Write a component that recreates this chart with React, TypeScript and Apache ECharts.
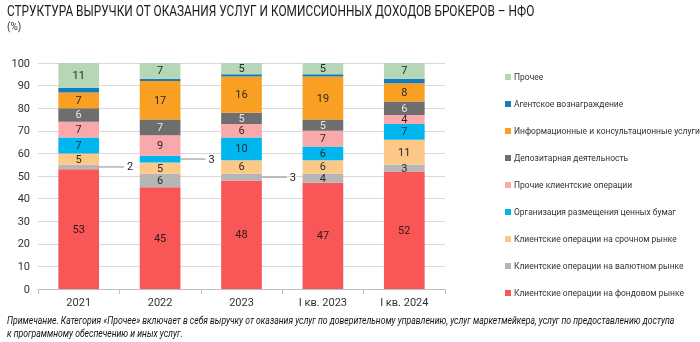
import React, { useEffect, useRef } from "react";
import * as echarts from "echarts";

const titleText = "СТРУКТУРА ВЫРУЧКИ ОТ ОКАЗАНИЯ УСЛУГ И КОМИССИОННЫХ ДОХОДОВ БРОКЕРОВ – НФО";
const unitText = "(%)";
const noteLine1 =
  "Примечание. Категория «Прочее» включает в себя выручку от оказания услуг по доверительному управлению, услуг маркетмейкера, услуг по предоставлению доступа";
const noteLine2 = "к программному обеспечению и иных услуг.";

const categories = ["2021", "2022", "2023", "I кв. 2023", "I кв. 2024"];

const stockMarket = [53, 45, 48, 47, 52];
const fxMarket = [2, 6, 3, 4, 3];
const derivativesMarket = [5, 5, 6, 6, 11];
const securitiesPlacement = [7, 3, 10, 6, 7];
const otherClientOps = [7, 9, 6, 7, 4];
const depository = [6, 7, 5, 5, 6];
const infoConsulting = [7, 17, 16, 19, 8];
const agencyFee = [2, 1, 1, 1, 2];
const other = [11, 7, 5, 5, 7];

const seriesDefs = [
  { name: "Клиентские операции на фондовом рынке", data: stockMarket, color: "#f95757", label: true, outside: [] as number[], labelColor: "#2a1a1a" },
  { name: "Клиентские операции на валютном рынке", data: fxMarket, color: "#b6b6b6", label: true, outside: [0, 2], labelColor: "#2a2a2a" },
  { name: "Клиентские операции на срочном рынке", data: derivativesMarket, color: "#fcc887", label: true, outside: [], labelColor: "#2a2a2a" },
  { name: "Организация размещения ценных бумаг", data: securitiesPlacement, color: "#00b6ee", label: true, outside: [1], labelColor: "#1a2a33" },
  { name: "Прочие клиентские операции", data: otherClientOps, color: "#f9a9a9", label: true, outside: [], labelColor: "#2a2a2a" },
  { name: "Депозитарная деятельность", data: depository, color: "#6e6e6e", label: true, outside: [], labelColor: "#e6e6e6" },
  { name: "Информационные и консультационные услуги", data: infoConsulting, color: "#f9a023", label: true, outside: [], labelColor: "#2a2a2a" },
  { name: "Агентское вознаграждение", data: agencyFee, color: "#137cbd", label: false, outside: [], labelColor: "#2a2a2a" },
  { name: "Прочее", data: other, color: "#b6d7b5", label: true, outside: [], labelColor: "#2a2a2a" },
];

const FONT = "Roboto";

function measure(text: string, font: string): number {
  const ctx = document.createElement("canvas").getContext("2d")!;
  ctx.font = font;
  return ctx.measureText(text).width;
}

export default function App() {
  const ref = useRef<HTMLDivElement>(null);
  useEffect(() => {
    document.body.style.margin = "0";
    const chart = echarts.init(ref.current!, null, { renderer: "svg" });

    const titleScale = 528 / measure(titleText, `14px ${FONT}`);
    const noteScale = 668 / measure(noteLine1, `italic 10.5px ${FONT}`);
    const longest = seriesDefs.reduce((a, s) => (s.name.length > a.length ? s.name : a), "");
    const legendFont = Math.min(10, (10 * 186) / measure(longest, `10px ${FONT}`));

    const series = seriesDefs.map((s) => ({
      name: s.name,
      type: "bar",
      stack: "total",
      barWidth: "50%",
      itemStyle: { color: s.color },
      label: {
        show: s.label,
        position: "inside",
        fontSize: 11,
        fontFamily: FONT,
        color: s.labelColor,
      },
      data: s.data.map((v, i) =>
        s.outside.includes(i)
          ? {
              value: v,
              label: {
                show: true,
                position: "right",
                distance: 0,
                formatter: (p: any) => `{l|}{v|${p.value}}`,
                rich: {
                  l: { width: 25, height: 1, backgroundColor: "#8c8c8c" },
                  v: { fontSize: 11, color: "#222", fontFamily: FONT, padding: [0, 0, 0, 3] },
                },
              },
            }
          : v
      ),
    }));
    chart.setOption({
      animation: false,
      textStyle: { fontFamily: FONT },
      grid: { left: 38, right: 255, top: 63, bottom: 53 },
      legend: {
        orient: "vertical",
        left: 500,
        top: 66,
        itemWidth: 6,
        itemHeight: 6,
        itemGap: 15,
        icon: "rect",
        selectedMode: false,
        data: seriesDefs.map((s) => s.name).reverse(),
        textStyle: { fontSize: legendFont, color: "#333", fontFamily: FONT, padding: [0, 0, 0, -2], lineHeight: 12 },
      },
      xAxis: {
        type: "category",
        data: categories,
        axisLine: { lineStyle: { color: "#bfbfbf" } },
        axisTick: { show: true, lineStyle: { color: "#bfbfbf" } },
        axisLabel: { color: "#333", fontSize: 11, margin: 8 },
      },
      yAxis: {
        type: "value",
        min: 0,
        max: 100,
        interval: 10,
        axisLine: { show: false },
        axisTick: { show: false },
        axisLabel: { color: "#333", fontSize: 11, margin: 8 },
        splitLine: { lineStyle: { color: "#d9d9d9" } },
      },
      graphic: [
        {
          type: "text",
          x: 7,
          y: 4,
          scaleX: titleScale,
          style: { text: titleText, fontSize: 14, fontFamily: FONT, fill: "#1a1a1a", verticalAlign: "top" },
        },
        {
          type: "text",
          x: 7,
          y: 21,
          style: { text: unitText, fontSize: 10, fontFamily: FONT, fill: "#333", verticalAlign: "top" },
        },
        {
          type: "text",
          x: 7,
          y: 315,
          scaleX: noteScale,
          style: { text: noteLine1, fontSize: 10.5, fontStyle: "italic", fontFamily: FONT, fill: "#111", verticalAlign: "top" },
        },
        {
          type: "text",
          x: 7,
          y: 328,
          scaleX: noteScale,
          style: { text: noteLine2, fontSize: 10.5, fontStyle: "italic", fontFamily: FONT, fill: "#111", verticalAlign: "top" },
        },
      ],
      series,
    });
    return () => chart.dispose();
  }, []);
  return <div ref={ref} style={{ position: "fixed", left: 0, top: 0, width: 700, height: 342 }} />;
}
